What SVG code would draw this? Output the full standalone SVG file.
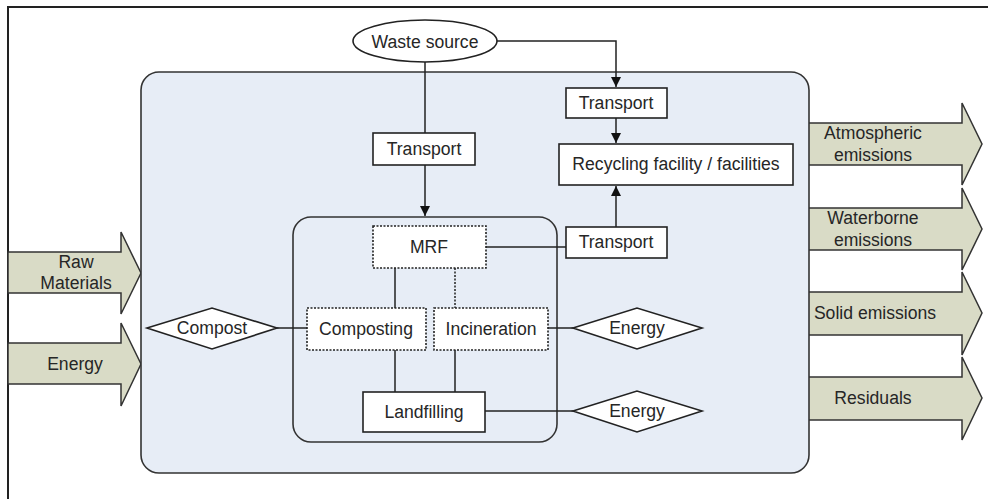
<svg xmlns="http://www.w3.org/2000/svg" width="988" height="499" viewBox="0 0 988 499">
<style>
text{font-family:"Liberation Sans",Arial,sans-serif;font-size:17.6px;fill:#262626;text-anchor:middle;dominant-baseline:central}
.box{fill:#fff;stroke:#222;stroke-width:1.6}
.dot{fill:#fff;stroke:#222;stroke-width:1.6;stroke-dasharray:2 1.5}
.ln{fill:none;stroke:#222;stroke-width:1.5}
.dl{fill:none;stroke:#222;stroke-width:1.5;stroke-dasharray:2 1.5}
.fa{fill:#d9dbc6;stroke:#333;stroke-width:1.5}
</style>
<defs>
<marker id="ah" viewBox="0 0 10 10" refX="10" refY="5" markerWidth="10" markerHeight="10" markerUnits="userSpaceOnUse" orient="auto">
<path d="M0,0 L10,5 L0,10 z" fill="#111"/>
</marker>
</defs>
<rect x="0" y="0" width="988" height="499" fill="#fff"/>
<rect id="frame" x="8" y="7" width="1000" height="510" fill="none" stroke="#222" stroke-width="2"/>
<g id="in-arrows">
<g id="raw"><path class="fa" d="M8,252 H121 V232 L141,273 L121,314 V293 H8 Z"/><text x="76" y="262">Raw</text><text x="76" y="283">Materials</text></g>
<g id="energy-in"><path class="fa" d="M8,343 H121 V323 L141,364 L121,406 V384 H8 Z"/><text x="75" y="364">Energy</text></g>
</g>
<g id="out-arrows">
<g id="atm"><path class="fa" d="M800,123 H962 V103 L982,144 L962,185 V165 H800 Z"/><text x="873" y="133">Atmospheric</text><text x="873" y="155">emissions</text></g>
<g id="water"><path class="fa" d="M800,208 H962 V188 L982,229 L962,270 V250 H800 Z"/><text x="873" y="218">Waterborne</text><text x="873" y="240">emissions</text></g>
<g id="solid"><path class="fa" d="M800,292 H962 V272 L982,313 L962,355 V335 H800 Z"/><text x="875" y="313">Solid emissions</text></g>
<g id="resid"><path class="fa" d="M800,377 H962 V357 L982,398 L962,440 V420 H800 Z"/><text x="873" y="398">Residuals</text></g>
</g>
<g id="system"><rect x="141" y="72" width="668" height="401" rx="18" fill="#e7edf6" stroke="#333" stroke-width="1.6"/></g>
<g id="inner"><rect x="293" y="217" width="264" height="225" rx="18" fill="#e7edf6" stroke="#333" stroke-width="1.6"/></g>
<g id="connectors">
<path class="ln" d="M425,62 V133"/>
<path class="ln" d="M425,165 V216" marker-end="url(#ah)"/>
<path class="ln" d="M497,41 H616 V87" marker-end="url(#ah)"/>
<path class="ln" d="M616,118 V143" marker-end="url(#ah)"/>
<path class="ln" d="M616,227 V186" marker-end="url(#ah)"/>
<path class="ln" d="M486,247 H566"/>
<path class="ln" d="M395,268 V308"/>
<path class="dl" d="M455,268 V308"/>
<path class="ln" d="M395,350 V392"/>
<path class="ln" d="M455,350 V392"/>
<path class="ln" d="M277,328 H307"/>
<path class="ln" d="M548,328 H573"/>
<path class="ln" d="M485,411 H573"/>
</g>
<g id="waste"><ellipse cx="425" cy="41" rx="72" ry="21" class="box"/><text x="425" y="42">Waste source</text></g>
<g id="transport1"><rect class="box" x="373" y="133" width="102" height="32"/><text x="424" y="149">Transport</text></g>
<g id="transport2"><rect class="box" x="566" y="88" width="101" height="30"/><text x="616" y="103">Transport</text></g>
<g id="recycling"><rect class="box" x="559" y="144" width="234" height="41"/><text x="676" y="164">Recycling facility / facilities</text></g>
<g id="transport3"><rect class="box" x="566" y="227" width="101" height="31"/><text x="616" y="242">Transport</text></g>
<g id="mrf"><rect class="dot" x="373" y="226" width="113" height="42"/><text x="429" y="247">MRF</text></g>
<g id="composting"><rect class="dot" x="307" y="308" width="119" height="42"/><text x="366" y="329">Composting</text></g>
<g id="incineration"><rect class="dot" x="434" y="308" width="114" height="42"/><text x="491" y="329">Incineration</text></g>
<g id="landfilling"><rect class="box" x="363" y="392" width="122" height="40"/><text x="424" y="412">Landfilling</text></g>
<g id="compost"><path class="box" d="M147,328 L212,308 L277,328 L212,349 Z"/><text x="212" y="328">Compost</text></g>
<g id="energy1"><path class="box" d="M573,328 L637,308 L702,328 L637,349 Z"/><text x="637" y="328">Energy</text></g>
<g id="energy2"><path class="box" d="M573,411 L637,391 L702,411 L637,432 Z"/><text x="637" y="411">Energy</text></g>
</svg>
